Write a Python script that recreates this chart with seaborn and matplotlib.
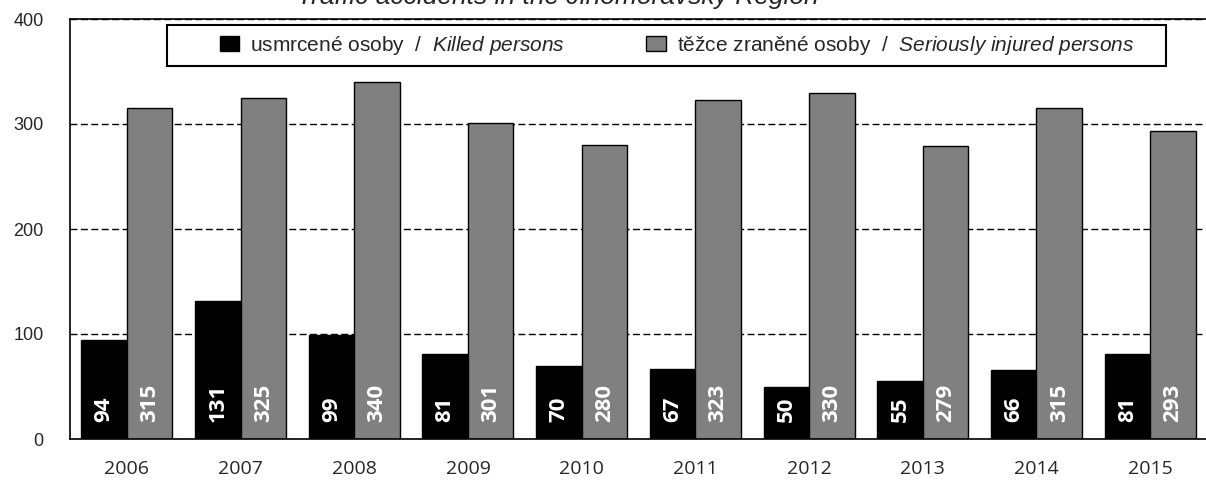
import matplotlib
matplotlib.use("Agg")
import matplotlib.pyplot as plt
from matplotlib.patches import Rectangle
import seaborn as sns
import pandas as pd

years = ["2006", "2007", "2008", "2009", "2010", "2011", "2012", "2013", "2014", "2015"]
killed = [94, 131, 99, 81, 70, 67, 50, 55, 66, 81]
injured = [315, 325, 340, 301, 280, 323, 330, 279, 315, 293]
series = ["killed", "injured"]
series_labels = [
    r"usmrcené osoby  /  $\mathit{Killed\ persons}$",
    r"těžce zraněné osoby  /  $\mathit{Seriously\ injured\ persons}$",
]
title = "Traffic accidents in the Jihomoravský Region"
y_ticks = [0, 100, 200, 300, 400]

sns.set_theme(style="white")
plt.rcParams["font.family"] = ["Liberation Sans", "DejaVu Sans"]
plt.rcParams["mathtext.fontset"] = "custom"
plt.rcParams["mathtext.rm"] = "Liberation Sans"
plt.rcParams["mathtext.it"] = "Liberation Sans:italic"

df = pd.DataFrame({
    "year": years * 2,
    "value": killed + injured,
    "series": [series[0]] * len(years) + [series[1]] * len(years),
})

fig = plt.figure(figsize=(12.06, 4.8), dpi=100)
ax = fig.add_axes([70 / 1206, 41 / 480, 1137 / 1206, 420 / 480])

sns.barplot(data=df, x="year", y="value", hue="series", hue_order=series,
            palette=["#000000", "#808080"], edgecolor="black", linewidth=1,
            saturation=1, width=0.8, ax=ax)

ax.set_ylim(0, 400)
ax.set_xlim(-0.5, len(years) - 0.5)
ax.set_yticks(y_ticks)
ax.set_yticklabels([str(v) for v in y_ticks], fontsize=13, family="Liberation Sans")
ax.set_xticks(range(len(years)))
ax.set_xticklabels(years, fontsize=14, family="Open Sans")
ax.set_xticks([i - 0.5 for i in range(len(years) + 1)], minor=True)
ax.tick_params(axis="x", which="major", length=0, pad=15)
ax.tick_params(axis="x", which="minor", length=4.5, width=1, color="black", direction="out")
ax.tick_params(axis="y", length=5, width=1, color="black", direction="out", pad=14)
ax.set_xlabel("")
ax.set_ylabel("")

ax.set_axisbelow(True)
ax.yaxis.grid(True, color="black", linewidth=1, linestyle=(0, (5, 2.5)))
for side in ["left", "bottom", "top"]:
    ax.spines[side].set_visible(True)
    ax.spines[side].set_color("black")
    ax.spines[side].set_linewidth(1.2)
ax.spines["right"].set_visible(False)

# value labels inside the bars, rotated, near the base
for container, values in zip(ax.containers, [killed, injured]):
    for bar, v in zip(container, values):
        ax.annotate(str(v), xy=(bar.get_x() + bar.get_width() / 2, 0),
                    xytext=(0, 12), textcoords="offset points",
                    rotation=90, ha="center", va="bottom",
                    color="white", fontsize=16, fontweight="bold", family="Open Sans")

# legend: boxed strip across the top of the plot area
frame = Rectangle((0.0853, 0.888), 0.8786, 0.0977, transform=ax.transAxes,
                  facecolor="white", edgecolor="black", linewidth=1.5, zorder=4.9)
ax.add_patch(frame)
handles = ax.get_legend().legend_handles
ax.get_legend().remove()
leg = ax.legend(handles, series_labels, ncol=2, loc="center",
                bbox_to_anchor=(0.534, 0.937), fontsize=15, frameon=False,
                handlelength=0.95, handleheight=0.75, handletextpad=0.52,
                columnspacing=3.9, borderpad=0, borderaxespad=0)
leg.set_zorder(5)

fig.text(558 / 1206, 1 - 4 / 480, title, ha="center", va="baseline",
         fontsize=19, style="italic", family="Liberation Sans")

fig.savefig("out.png", dpi=100)
